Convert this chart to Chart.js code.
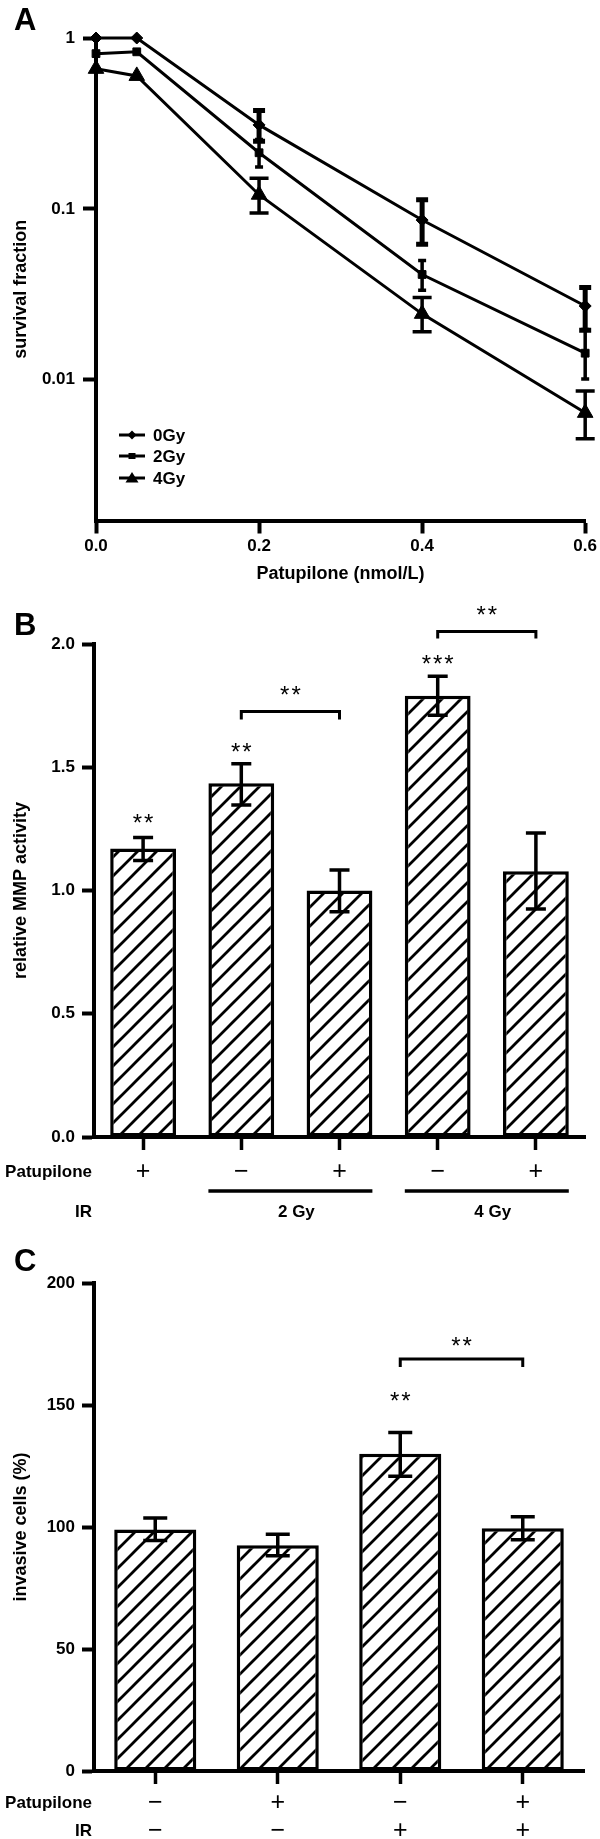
<!DOCTYPE html>
<html lang="en">
<head>
<meta charset="UTF-8">
<title>Patupilone: survival, MMP activity and invasion</title>
<script src="https://cdn.jsdelivr.net/npm/chart.js"></script>
<style>
  body { margin: 0; background: #fff; width: 600px; height: 1839px; position: relative; }
  canvas { position: absolute; left: 0; }
</style>
</head>
<body>
<canvas id="chartA" width="600" height="590" style="top:0px"></canvas>
<canvas id="chartB" width="600" height="640" style="top:590px"></canvas>
<canvas id="chartC" width="600" height="609" style="top:1230px"></canvas>
<script>
// ---- panel A: survival fraction (log scale) ----
const doseA = [0, 0.05, 0.2, 0.4, 0.6];
const survival0Gy = [1, 1, 0.31, 0.086, 0.027];
const low0Gy = [null, null, 0.249, 0.062, 0.0195];
const high0Gy = [null, null, 0.376, 0.113, 0.0346];
const survival2Gy = [0.81, 0.83, 0.213, 0.0413, 0.0143];
const low2Gy = [null, null, 0.176, 0.0334, 0.0101];
const high2Gy = [null, null, 0.255, 0.0499, 0.0197];
const survival4Gy = [0.66, 0.60, 0.121, 0.0243, 0.0064];
const low4Gy = [null, null, 0.0945, 0.0191, 0.00452];
const high4Gy = [null, null, 0.151, 0.0303, 0.00858];
const xTicksA = [0, 0.2, 0.4, 0.6];
const yTicksA = [0.01, 0.1, 1];

// ---- panel B: relative MMP activity ----
const patupiloneB = ['+', '−', '+', '−', '+'];
const irGroupsB = [{ text: '2 Gy', from: 1, to: 2 }, { text: '4 Gy', from: 3, to: 4 }];
const mmpValues = [1.17, 1.435, 1.0, 1.79, 1.078];
const mmpLow = [1.122, 1.347, 0.914, 1.711, 0.925];
const mmpHigh = [1.215, 1.514, 1.083, 1.869, 1.233];
const yTicksB = [0, 0.5, 1.0, 1.5, 2.0];
const starsB = [{ bar: 0, y: 1.297, text: '**' }, { bar: 1, y: 1.585, text: '**' }, { bar: 3, y: 1.943, text: '***' }];
const bracketsB = [{ from: 1, to: 2, y: 1.726, end: 1.694, starsY: 1.816 }, { from: 3, to: 4, y: 2.051, end: 2.022, starsY: 2.144 }];

// ---- panel C: invasive cells ----
const patupiloneC = ['−', '+', '−', '+'];
const irC = ['−', '−', '+', '+'];
const invasiveValues = [99, 92.5, 130, 99.5];
const invasiveLow = [94.5, 88.2, 120.8, 94.8];
const invasiveHigh = [103.7, 97, 138.7, 104.2];
const yTicksC = [0, 50, 100, 150, 200];
const starsC = [{ bar: 2, y: 154, text: '**' }];
const bracketsC = [{ from: 2, to: 3, y: 168.9, end: 165.6, starsY: 176.6 }];

const FAMILY = "'Liberation Sans', Arial, Helvetica, sans-serif";
Chart.defaults.font.family = FAMILY;
Chart.defaults.color = '#000';

function bold(size, lineHeight) {
  return { size: size, weight: 'bold', lineHeight: lineHeight || 1.2 };
}

// diagonal hatch fill for the bars
function hatchPattern() {
  const s = 19;
  const c = document.createElement('canvas');
  c.width = s; c.height = s;
  const g = c.getContext('2d');
  g.fillStyle = '#fff';
  g.fillRect(0, 0, s, s);
  g.strokeStyle = '#000';
  g.lineWidth = 2.8;
  g.beginPath();
  g.moveTo(-3, s + 3); g.lineTo(s + 3, -3);
  g.moveTo(-3, 3); g.lineTo(3, -3);
  g.moveTo(s - 3, s + 3); g.lineTo(s + 3, s - 3);
  g.stroke();
  return g.createPattern(c, 'repeat');
}

function panelLetter(ctx, letter, baseline) {
  ctx.save();
  ctx.font = 'bold 31px ' + FAMILY;
  ctx.fillStyle = '#000';
  ctx.textBaseline = 'alphabetic';
  ctx.fillText(letter, 14, baseline);
  ctx.restore();
}

function drawStars(ctx, text, x, y) {
  ctx.save();
  ctx.font = '24px ' + FAMILY;
  ctx.letterSpacing = '2px';
  ctx.textAlign = 'center';
  ctx.textBaseline = 'alphabetic';
  ctx.fillStyle = '#000';
  ctx.fillText(text, x + 1, y + 14);
  ctx.restore();
}

const gridTicks = { drawOnChartArea: false, tickLength: 13, tickWidth: 4, tickColor: '#000' };
const axisBorder = { color: '#000', width: 4 };

// ---------------- chart A ----------------
const seriesA = [
  { label: '0Gy', values: survival0Gy, low: low0Gy, high: high0Gy, style: 'rectRot', r: 6, cap: 6, errWidth: 5 },
  { label: '2Gy', values: survival2Gy, low: low2Gy, high: high2Gy, style: 'rect', r: 5.5, cap: 4, errWidth: 3.5 },
  { label: '4Gy', values: survival4Gy, low: low4Gy, high: high4Gy, style: 'triangle', r: 9, cap: 9.5, errWidth: 3.5 }
];

function legendMarker(ctx, style, x, y) {
  ctx.beginPath();
  if (style === 'rectRot') {
    ctx.moveTo(x, y - 4.5); ctx.lineTo(x + 4.5, y); ctx.lineTo(x, y + 4.5); ctx.lineTo(x - 4.5, y);
  } else if (style === 'rect') {
    ctx.rect(x - 3.5, y - 3, 7, 6);
  } else {
    ctx.moveTo(x, y - 6); ctx.lineTo(x + 6.5, y + 4.5); ctx.lineTo(x - 6.5, y + 4.5);
  }
  ctx.closePath();
  ctx.fill();
}

const extrasA = {
  id: 'extrasA',
  afterDatasetsDraw(chart) {
    const { ctx, scales: { x, y } } = chart;
    ctx.save();
    ctx.strokeStyle = '#000';
    seriesA.forEach(s => {
      ctx.lineWidth = s.errWidth;
      doseA.forEach((d, i) => {
        if (s.low[i] == null) return;
        const px = x.getPixelForValue(d);
        const top = y.getPixelForValue(s.high[i]);
        const bot = y.getPixelForValue(s.low[i]);
        ctx.beginPath();
        ctx.moveTo(px, top); ctx.lineTo(px, bot);
        ctx.moveTo(px - s.cap, top); ctx.lineTo(px + s.cap, top);
        ctx.moveTo(px - s.cap, bot); ctx.lineTo(px + s.cap, bot);
        ctx.stroke();
      });
    });
    ctx.restore();
  },
  afterDraw(chart) {
    const ctx = chart.ctx;
    panelLetter(ctx, 'A', 30);
    ctx.save();
    ctx.strokeStyle = '#000';
    ctx.fillStyle = '#000';
    ctx.lineWidth = 3;
    ctx.font = 'bold 17px ' + FAMILY;
    ctx.textBaseline = 'middle';
    [435, 456, 478].forEach((ly, i) => {
      ctx.beginPath();
      ctx.moveTo(119, ly); ctx.lineTo(145, ly);
      ctx.stroke();
      legendMarker(ctx, seriesA[i].style, 132, ly);
      ctx.fillText(seriesA[i].label, 153, ly + 1);
    });
    ctx.restore();
  }
};

new Chart(document.getElementById('chartA'), {
  type: 'line',
  data: {
    datasets: seriesA.map(s => ({
      label: s.label,
      data: doseA.map((d, i) => ({ x: d, y: s.values[i] })),
      borderColor: '#000',
      borderWidth: 3,
      pointStyle: s.style,
      pointRadius: s.r,
      pointBackgroundColor: '#000',
      pointBorderColor: '#000',
      pointBorderWidth: 1,
      tension: 0,
      clip: false
    }))
  },
  options: {
    responsive: false,
    animation: false,
    layout: { padding: { top: 38, right: 13, bottom: 0, left: 0 } },
    plugins: { legend: { display: false }, tooltip: { enabled: false } },
    scales: {
      x: {
        type: 'linear', min: 0, max: 0.6,
        afterBuildTicks: s => { s.ticks = xTicksA.map(v => ({ value: v })); },
        afterFit: s => { s.height = 69.5; },
        ticks: { font: bold(17), padding: 3, callback: v => v.toFixed(1) },
        grid: gridTicks,
        border: axisBorder,
        title: { display: true, text: 'Patupilone (nmol/L)', font: bold(18), padding: { top: 0, bottom: 5 } }
      },
      y: {
        type: 'logarithmic', min: 0.0015, max: 1,
        afterBuildTicks: s => { s.ticks = yTicksA.map(v => ({ value: v })); },
        afterFit: s => { s.width = 96; },
        ticks: { font: bold(17), padding: 8, callback: v => String(v) },
        grid: gridTicks,
        border: axisBorder,
        title: { display: true, text: 'survival fraction    ', font: bold(18), padding: { top: 10, bottom: 0 } }
      }
    }
  },
  plugins: [extrasA]
});

// ---------------- bar charts B and C ----------------
function barExtras(cfg) {
  return {
    id: 'barExtras',
    afterDatasetsDraw(chart) {
      const { ctx, scales: { x, y } } = chart;
      ctx.save();
      ctx.strokeStyle = '#000';
      ctx.lineWidth = 3.5;
      cfg.low.forEach((lo, i) => {
        const px = x.getPixelForValue(i);
        const top = y.getPixelForValue(cfg.high[i]);
        const bot = y.getPixelForValue(lo);
        ctx.beginPath();
        ctx.moveTo(px, top); ctx.lineTo(px, bot);
        ctx.moveTo(px - cfg.cap, top); ctx.lineTo(px + cfg.cap, top);
        ctx.moveTo(px - cfg.cap, bot); ctx.lineTo(px + cfg.cap, bot);
        ctx.stroke();
      });
      ctx.lineWidth = 3;
      cfg.brackets.forEach(b => {
        const x1 = x.getPixelForValue(b.from);
        const x2 = x.getPixelForValue(b.to);
        const yTop = y.getPixelForValue(b.y);
        const yEnd = y.getPixelForValue(b.end);
        ctx.beginPath();
        ctx.moveTo(x1, yEnd); ctx.lineTo(x1, yTop); ctx.lineTo(x2, yTop); ctx.lineTo(x2, yEnd);
        ctx.stroke();
        drawStars(ctx, '**', (x1 + x2) / 2, y.getPixelForValue(b.starsY));
      });
      cfg.stars.forEach(s => drawStars(ctx, s.text, x.getPixelForValue(s.bar), y.getPixelForValue(s.y)));
      ctx.restore();
    },
    afterDraw(chart) {
      const { ctx, chartArea, scales: { x } } = chart;
      panelLetter(ctx, cfg.letter, cfg.letterY);
      ctx.save();
      ctx.fillStyle = '#000';
      ctx.strokeStyle = '#000';
      ctx.font = 'bold 17px ' + FAMILY;
      ctx.textBaseline = 'middle';
      ctx.textAlign = 'right';
      ctx.fillText('Patupilone', 92, chartArea.bottom + cfg.rowP);
      ctx.fillText('IR', 92, chartArea.bottom + cfg.rowIR);
      if (cfg.groups) {
        const meta = chart.getDatasetMeta(0);
        ctx.textAlign = 'center';
        ctx.lineWidth = 3.5;
        cfg.groups.forEach(g => {
          const left = x.getPixelForValue(g.from) - meta.data[g.from].width / 2;
          const right = x.getPixelForValue(g.to) + meta.data[g.to].width / 2;
          ctx.beginPath();
          ctx.moveTo(left, chartArea.bottom + 54);
          ctx.lineTo(right, chartArea.bottom + 54);
          ctx.stroke();
          ctx.fillText(g.text, (left + right) / 2 + 6, chartArea.bottom + cfg.rowIR);
        });
      }
      ctx.restore();
    }
  };
}

function barChart(id, labels, values, yTicks, yTitle, padding, xHeight, tickFont, tickPad, fmt, extras) {
  return new Chart(document.getElementById(id), {
    type: 'bar',
    data: {
      labels: labels,
      datasets: [{
        data: values,
        backgroundColor: hatchPattern(),
        borderColor: '#000',
        borderWidth: 3.5,
        borderSkipped: false,
        barPercentage: 0.67,
        categoryPercentage: 1
      }]
    },
    options: {
      responsive: false,
      animation: false,
      layout: { padding: padding },
      plugins: { legend: { display: false }, tooltip: { enabled: false } },
      scales: {
        x: {
          afterFit: s => { s.height = xHeight; },
          ticks: { font: tickFont, padding: tickPad, autoSkip: false, maxRotation: 0 },
          grid: Object.assign({ offset: false }, gridTicks, { tickWidth: 3.5 }),
          border: axisBorder
        },
        y: {
          min: yTicks[0], max: yTicks[yTicks.length - 1],
          afterBuildTicks: s => { s.ticks = yTicks.map(v => ({ value: v })); },
          afterFit: s => { s.width = 94; },
          ticks: { font: bold(17), padding: 7, callback: fmt },
          grid: Object.assign({}, gridTicks, { tickLength: 12 }),
          border: axisBorder,
          title: { display: true, text: yTitle, font: bold(18), padding: { top: 10, bottom: 0 } }
        }
      }
    },
    plugins: [extras]
  });
}

// the +/− signs under the bars are set larger and lighter than the other labels
const signFont = { size: 25, weight: 'normal', lineHeight: 1.2 };

barChart('chartB', patupiloneB, mmpValues, yTicksB, 'relative MMP activity',
  { top: 54, right: 15, bottom: 0, left: 0 }, 93, signFont, 7.5, v => v.toFixed(1),
  barExtras({ low: mmpLow, high: mmpHigh, cap: 10, stars: starsB, brackets: bracketsB,
    groups: irGroupsB, letter: 'B', letterY: 45, rowP: 35, rowIR: 75 }));

barChart('chartC', patupiloneC.map((p, i) => [p, irC[i]]), invasiveValues, yTicksC, 'invasive cells (%)',
  { top: 53, right: 16, bottom: 0, left: 0 }, 68, { size: 25, weight: 'normal', lineHeight: 28 / 25 }, 5, v => String(v),
  barExtras({ low: invasiveLow, high: invasiveHigh, cap: 12, stars: starsC, brackets: bracketsC,
    groups: null, letter: 'C', letterY: 41, rowP: 32, rowIR: 60 }));
</script>
</body>
</html>
